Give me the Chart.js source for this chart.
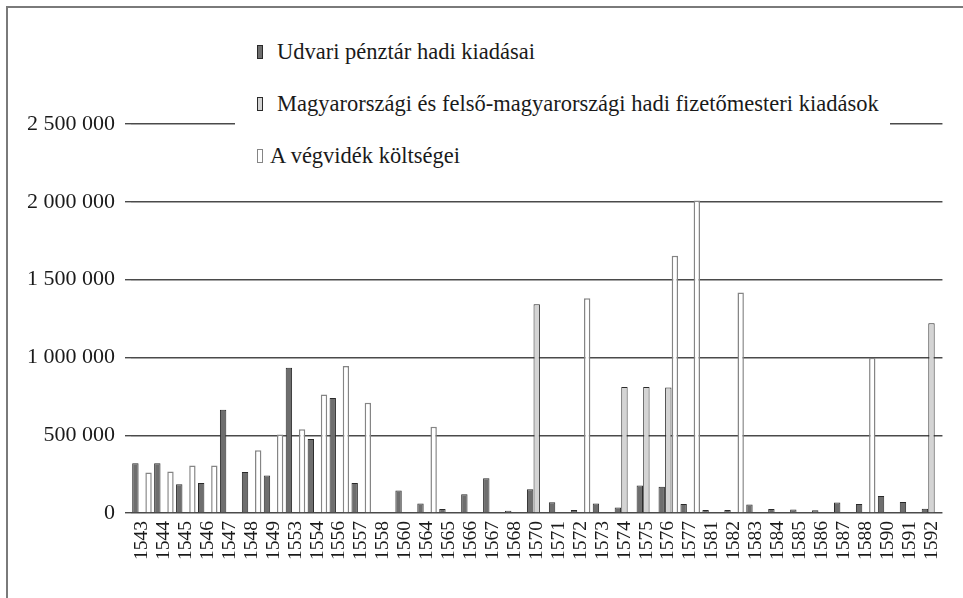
<!DOCTYPE html>
<html>
<head>
<meta charset="utf-8">
<script src="https://cdn.jsdelivr.net/npm/chart.js@4.4.1/dist/chart.umd.min.js"></script>
<style>
  html, body { margin: 0; padding: 0; background: #fff; overflow: hidden; }
  #wrap { position: relative; width: 963px; height: 598px; }
  #frame { position: absolute; left: 6px; top: 6px; right: 0; bottom: 0;
           border-top: 2px solid #7a7a7a; border-left: 2px solid #7a7a7a; pointer-events: none; }
  #legend { position: absolute; left: 235px; top: 26px; width: 655px; height: 156px;
            background: #fff; font-family: 'Liberation Serif', serif; font-size: 22.5px; color: #1a1a1a; }
  #legend ul { list-style: none; margin: 0; padding: 0; }
  #legend li { height: 52px; display: flex; align-items: center; white-space: nowrap; }
  #legend .sw { display: inline-block; width: 6px; height: 14px; margin-left: 22px; margin-right: 14px; box-sizing: border-box; }
  #legend li:last-child .sw { margin-right: 7px; }
</style>
</head>
<body>
<div id="wrap">
  <canvas id="chart" width="963" height="598"></canvas>
  <div id="legend"></div>
  <div id="frame"></div>
</div>
<script>
const years = ['1543', '1544', '1545', '1546', '1547', '1548', '1549', '1553', '1554', '1556',
  '1557', '1558', '1560', '1564', '1565', '1566', '1567', '1568', '1570', '1571',
  '1572', '1573', '1574', '1575', '1576', '1577', '1581', '1582', '1583', '1584',
  '1585', '1586', '1587', '1588', '1590', '1591', '1592'];

// Udvari pénztár hadi kiadásai
const udvari = [319000, 319000, 185000, 192000, 663000, 263000, 241000, 934000, 476000, 739000,
  192000, null, 145000, 61000, 26000, 121000, 224000, 15000, 153000, 69000,
  19000, 61000, 35000, 177000, 168000, 58000, 19000, 19000, 54000, 26000,
  22000, 17000, 67000, 58000, 110000, 71000, 28000];

// Magyarországi és felső-magyarországi hadi fizetőmesteri kiadások
const fizetomester = [null, null, null, null, null, null, null, null, null, null,
  null, null, null, null, null, null, null, null, 1342000, null,
  null, null, 810000, 810000, 806000, null, null, null, null, null,
  null, null, null, null, null, null, 1220000];

// A végvidék költségei
const vegvidek = [261000, 267000, 306000, 306000, null, 403000, 504000, 539000, 761000, 945000,
  709000, null, null, 554000, null, null, null, null, null, null,
  1380000, null, null, null, 1654000, 2008000, null, 1417000, null, null,
  null, null, null, 998000, null, null, null];

const seriesNames = ['Udvari pénztár hadi kiadásai',
  'Magyarországi és felső-magyarországi hadi fizetőmesteri kiadások',
  'A végvidék költségei'];

const yTicks = [0, 500000, 1000000, 1500000, 2000000, 2500000];
const yTickLabels = ['0', '500 000', '1 000 000', '1 500 000', '2 000 000', '2 500 000'];

const serif = "'Liberation Serif', 'Times New Roman', serif";

// legend as html list, filled from the chart's datasets
const htmlLegend = {
  id: 'htmlLegend',
  afterUpdate(chart) {
    const box = document.getElementById('legend');
    const ul = document.createElement('ul');
    chart.data.datasets.forEach((ds) => {
      const li = document.createElement('li');
      const sw = document.createElement('span');
      sw.className = 'sw';
      sw.style.background = ds.backgroundColor;
      sw.style.border = '1px solid ' + ds.borderColor;
      li.appendChild(sw);
      li.appendChild(document.createTextNode(ds.label));
      ul.appendChild(li);
    });
    box.innerHTML = '';
    box.appendChild(ul);
  }
};

const ctx = document.getElementById('chart').getContext('2d');
new Chart(ctx, {
  type: 'bar',
  data: {
    labels: years,
    datasets: [
      {
        label: seriesNames[0],
        data: udvari,
        backgroundColor: '#6e6e6e',
        borderColor: '#2a2a2a',
        borderWidth: 1,
      },
      {
        label: seriesNames[1],
        data: fizetomester,
        backgroundColor: '#d4d4d4',
        borderColor: '#2a2a2a',
        borderWidth: 1,
      },
      {
        label: seriesNames[2],
        data: vegvidek,
        backgroundColor: '#ffffff',
        borderColor: '#858585',
        borderWidth: 1.5,
      },
    ],
  },
  options: {
    responsive: false,
    animation: false,
    devicePixelRatio: 1,
    layout: {
      padding: { left: 17, right: 9, top: 124, bottom: 30 },
    },
    datasets: {
      bar: { categoryPercentage: 0.9, barPercentage: 0.97 },
    },
    plugins: {
      legend: { display: false },
      tooltip: { enabled: false },
    },
    scales: {
      x: {
        grid: { display: false, drawTicks: false, tickLength: 0 },
        border: { display: false },
        ticks: {
          minRotation: 90,
          maxRotation: 90,
          autoSkip: false,
          padding: 8,
          color: '#1a1a1a',
          font: { family: serif, size: 19.5 },
        },
      },
      y: {
        min: 0,
        max: 2500000,
        afterBuildTicks(axis) {
          axis.ticks = yTicks.map((v) => ({ value: v }));
        },
        grid: { color: '#4a4a4a', lineWidth: 1.4, tickLength: 6, drawTicks: true },
        border: { display: false },
        ticks: {
          padding: 10,
          color: '#1a1a1a',
          font: { family: serif, size: 22 },
          callback: (v) => yTickLabels[yTicks.indexOf(v)],
        },
      },
    },
  },
  plugins: [htmlLegend],
});
</script>
</body>
</html>
